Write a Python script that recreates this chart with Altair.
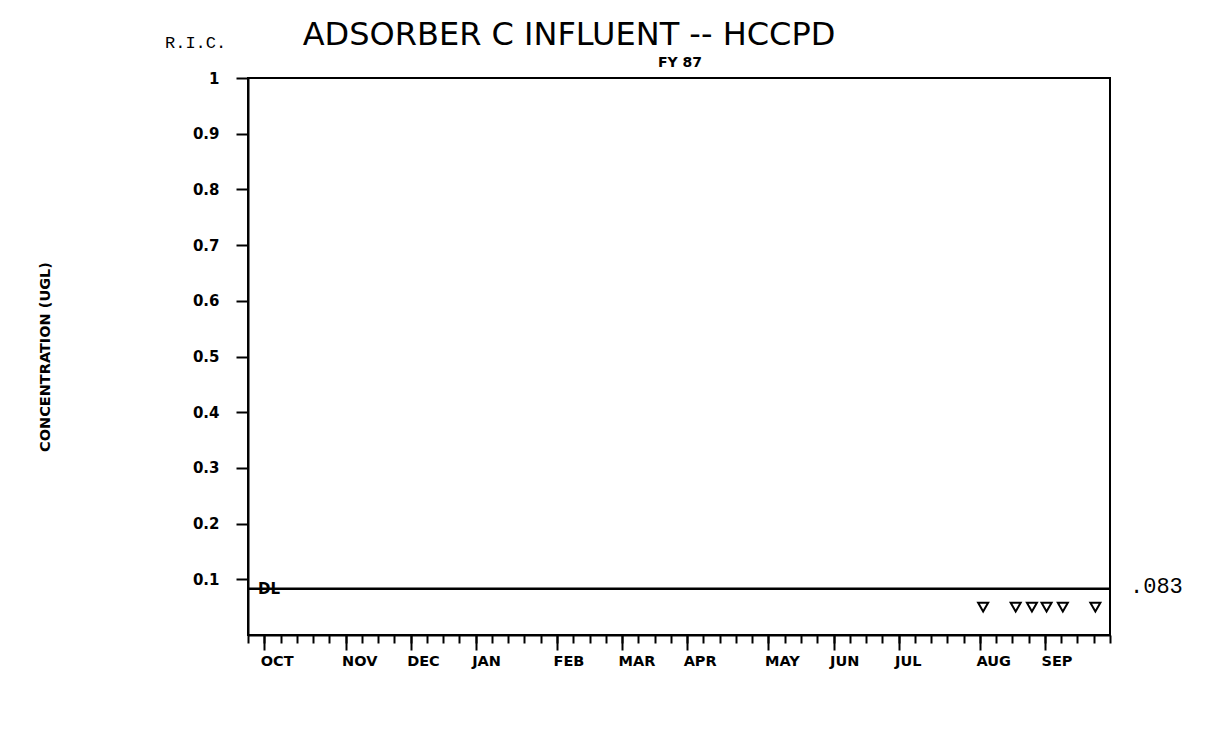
import altair as alt
import pandas as pd

# ---------------- data ----------------
MONTHS = ["OCT", "NOV", "DEC", "JAN", "FEB", "MAR", "APR", "MAY", "JUN", "JUL", "AUG", "SEP"]
MONTH_WEEKS = [1, 6, 10, 14, 19, 23, 27, 32, 36, 40, 45, 49]      # fiscal 5-4-4 periods
WEEK_TICKS = list(range(0, 54))
Y_TICKS = [0.1, 0.2, 0.3, 0.4, 0.5, 0.6, 0.7, 0.8, 0.9, 1.0]
SAMPLE_WEEKS = [45.2, 47.2, 48.2, 49.1, 50.1, 52.1]
SAMPLE_VALUES = [0.05, 0.05, 0.05, 0.05, 0.05, 0.05]
DL_VALUE = 0.083
DL_LABEL = "DL"
DL_TEXT = ".083"
WEEK_START, WEEK_END = 0, 53
TITLE = "ADSORBER C INFLUENT -- HCCPD"
SUBTITLE = "FY 87"
CORNER = "R.I.C."

samples = pd.DataFrame({"week": SAMPLE_WEEKS, "value": SAMPLE_VALUES})
dl = pd.DataFrame({"week": [WEEK_START], "week2": [WEEK_END], "value": [DL_VALUE],
                   "label": [DL_LABEL], "text": [DL_TEXT]})
titles = pd.DataFrame({"t": [TITLE], "s": [SUBTITLE], "c": [CORNER]})

xscale = alt.Scale(domain=[WEEK_START, WEEK_END], nice=False, zero=False)
yscale = alt.Scale(domain=[0, 1], nice=False)

W, H = 862, 557

yaxis = alt.Axis(
    values=Y_TICKS, title="CONCENTRATION (UGL)",
    labelExpr="datum.value == 1 ? '1' : format(datum.value, '.1f')",
    tickSize=12, labelPadding=17, labelFont="DejaVu Sans", labelFontWeight="bold",
    labelFontSize=15, grid=False,
    titleFont="DejaVu Sans", titleFontWeight="bold", titleFontSize=14.5,
    titleAngle=270, titleX=-203, titleY=H / 2, titleAlign="center", titleBaseline="middle",
)

minor_axis = alt.Axis(values=WEEK_TICKS, orient="bottom", tickSize=8, labels=False,
                      title=None, grid=False, domain=True)

months_js = "[" + ",".join("'%s'" % m for m in MONTHS) + "]"
weeks_js = "[" + ",".join(str(w) for w in MONTH_WEEKS) + "]"
major_axis = alt.Axis(
    values=MONTH_WEEKS, orient="bottom", tickSize=15, domain=False, grid=False, title=None,
    labelExpr=months_js + "[indexof(" + weeks_js + ", datum.value)]",
    labelAlign="left", labelOffset=-4, labelPadding=4, labelBaseline="top",
    labelFont="DejaVu Sans", labelFontWeight="bold", labelFontSize=14.5,
)

points = alt.Chart(samples).mark_point(
    shape="triangle-down", filled=False, color="black", strokeWidth=2, size=100, opacity=1
).encode(
    x=alt.X("week:Q", scale=xscale, axis=minor_axis),
    y=alt.Y("value:Q", scale=yscale, axis=yaxis),
)

dl_rule = alt.Chart(dl).mark_rule(color="black", strokeWidth=2.5).encode(
    x=alt.X("week:Q", scale=xscale, axis=major_axis),
    x2="week2:Q",
    y=alt.Y("value:Q", scale=yscale, axis=yaxis),
)

dl_label = alt.Chart(dl).mark_text(
    align="left", baseline="middle", x=10, font="DejaVu Sans", fontWeight="bold",
    fontSize=15, color="black"
).encode(y=alt.Y("value:Q", scale=yscale, axis=yaxis), text="label:N")

dl_value = alt.Chart(dl).mark_text(
    align="left", baseline="middle", x=882, dy=-3, font="Liberation Mono",
    fontSize=22, color="black"
).encode(y=alt.Y("value:Q", scale=yscale, axis=yaxis), text="text:N")

title_text = alt.Chart(titles).mark_text(
    align="center", baseline="middle", x=321, y=-43, font="DejaVu Sans",
    fontSize=32, color="black"
).encode(text="t:N")

sub_text = alt.Chart(titles).mark_text(
    align="center", baseline="middle", x=432, y=-15, font="DejaVu Sans",
    fontWeight="bold", fontSize=14, color="black"
).encode(text="s:N")

ric_text = alt.Chart(titles).mark_text(
    align="left", baseline="middle", x=-83, y=-35, font="Liberation Mono",
    fontSize=17, color="black"
).encode(text="c:N")

chart = alt.layer(points, dl_rule, dl_label, dl_value, title_text, sub_text, ric_text).resolve_axis(
    x="independent"
).properties(
    width=W, height=H,
    padding={"left": 240, "top": 70, "right": 87, "bottom": 50},
    autosize=alt.AutoSizeParams(type="none"),
    background="white",
).configure_view(stroke="black", strokeWidth=2).configure_axis(
    domainColor="black", domainWidth=2, tickColor="black", tickWidth=2, labelColor="black",
    titleColor="black",
)

chart.save("out.html", embed_options={"renderer": "svg", "actions": False})
